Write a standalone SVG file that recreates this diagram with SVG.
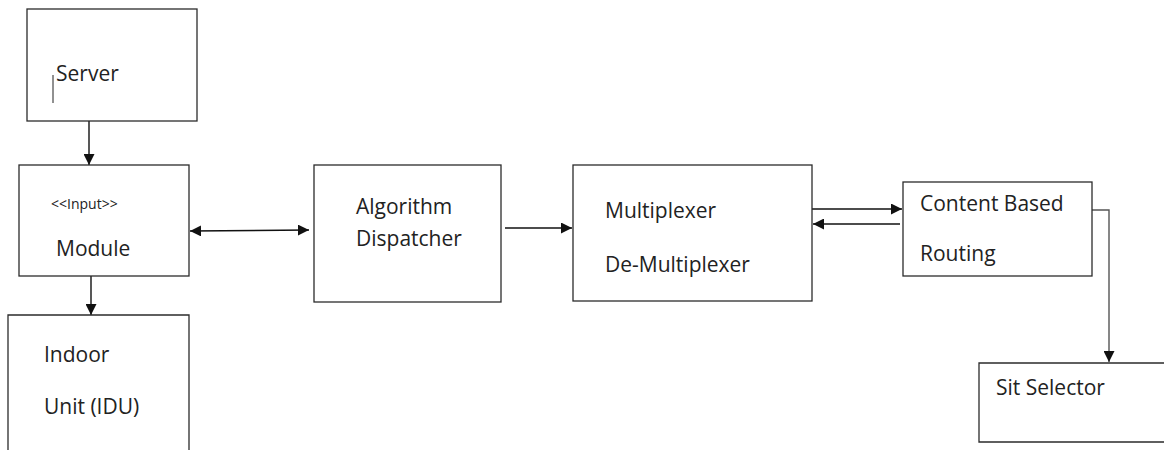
<svg xmlns="http://www.w3.org/2000/svg" width="1164" height="450" viewBox="0 0 1164 450">
<style>
.box{fill:#fff;stroke:#2b2b2b;stroke-width:1.3}
.t{font-family:"Open Sans","Noto Sans",sans-serif;font-size:21px;fill:#222}
.s{font-family:"Open Sans","Noto Sans",sans-serif;font-size:14px;fill:#222}
.c{fill:none;stroke:#111;stroke-width:1.4}
</style>
<defs>
<marker id="ah" viewBox="0 0 10 10" refX="10" refY="5" markerWidth="11" markerHeight="11" markerUnits="userSpaceOnUse" orient="auto-start-reverse">
<path d="M0,0 L10,5 L0,10 z" fill="#111"/>
</marker>
</defs>
<rect width="1164" height="450" fill="#fff"/>
<g id="connectors">
<line class="c" x1="89" y1="121" x2="89" y2="165" marker-end="url(#ah)"/>
<line class="c" x1="91" y1="276" x2="91" y2="315" marker-end="url(#ah)"/>
<line class="c" x1="190" y1="231" x2="309" y2="230" marker-start="url(#ah)" marker-end="url(#ah)"/>
<line class="c" x1="505" y1="228" x2="572" y2="228" marker-end="url(#ah)"/>
<line class="c" x1="812" y1="209" x2="902" y2="209" marker-end="url(#ah)"/>
<line class="c" x1="900" y1="224" x2="813" y2="224" marker-end="url(#ah)"/>
<polyline class="c" style="stroke:#555" points="1092,210 1109,210 1109,362" marker-end="url(#ah)"/>
</g>
<g id="server">
<rect class="box" x="27" y="9" width="170" height="112"/>
<line x1="53" y1="75" x2="53" y2="103" stroke="#222" stroke-width="1"/>
<text class="t" x="56" y="81">Server</text>
</g>
<g id="module">
<rect class="box" x="19" y="165" width="170" height="111"/>
<text class="s" x="51" y="209">&lt;&lt;Input&gt;&gt;</text>
<text class="t" x="56" y="256">Module</text>
</g>
<g id="idu">
<path class="box" d="M8,451 V315 H189 V451"/>
<text class="t" x="44" y="362">Indoor</text>
<text class="t" x="44" y="414">Unit (IDU)</text>
</g>
<g id="dispatcher">
<rect class="box" x="314" y="165" width="187" height="137"/>
<text class="t" x="356" y="214">Algorithm</text>
<text class="t" x="356" y="246">Dispatcher</text>
</g>
<g id="mux">
<rect class="box" x="573" y="165" width="239" height="136"/>
<text class="t" x="605" y="218">Multiplexer</text>
<text class="t" x="605" y="272">De-Multiplexer</text>
</g>
<g id="routing">
<rect class="box" x="903" y="182" width="189" height="94"/>
<text class="t" x="920" y="211">Content Based</text>
<text class="t" x="920" y="261">Routing</text>
</g>
<g id="selector">
<path class="box" d="M1165,363 H979 V442 H1165"/>
<text class="t" x="996" y="395">Sit Selector</text>
</g>
</svg>
